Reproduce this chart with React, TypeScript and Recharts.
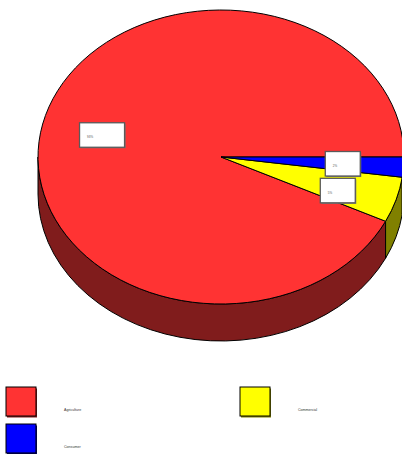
import { PieChart, Pie, Legend } from "recharts";

const CATEGORIES = ["Agriculture", "Commercial", "Consumer"];
const VALUES = [92.8, 5.0, 2.2];
const LABELS = ["93%", "5%", "2%"];
const COLORS = ["#FF3333", "#FFFF00", "#0000FF"];
const SIDE_COLORS = ["#801C1C", "#808000", "#000080"];

const data = CATEGORIES.map((name, i) => ({ name, value: VALUES[i] }));

const RY_RATIO = 147 / 183;
const DEPTH = 37;
const RAD = Math.PI / 180;
const BOX_H = 24.5;
const BOX_GAP = 2.3;

const boxWidth = (i: number) => (LABELS[i].length > 2 ? 45 : 35);

// push label boxes apart so they don't overlap (done in index order, last ones stay put)
function resolveBoxes(centers: { x: number; y: number }[]) {
  const out = centers.map((c) => ({ ...c }));
  for (let i = out.length - 1; i >= 0; i--) {
    for (let j = i + 1; j < out.length; j++) {
      const a = out[i];
      const b = out[j];
      const overlapX = Math.abs(a.x - b.x) < (boxWidth(i) + boxWidth(j)) / 2;
      const overlapY = Math.abs(a.y - b.y) < BOX_H + BOX_GAP;
      if (overlapX && overlapY) {
        a.y = a.y >= b.y ? b.y + BOX_H + BOX_GAP : b.y - BOX_H - BOX_GAP;
      }
    }
  }
  return out;
}

const natural: { x: number; y: number }[] = [];
let boxes: { x: number; y: number }[] = [];

function renderSlice(props: any) {
  const { cx, cy, outerRadius, startAngle, endAngle, midAngle, index } = props;
  const rx = outerRadius;
  const ry = outerRadius * RY_RATIO;
  const pt = (a: number, dy = 0) =>
    `${cx + rx * Math.cos(a * RAD)},${cy - ry * Math.sin(a * RAD) + dy}`;

  const large = endAngle - startAngle > 180 ? 1 : 0;
  const top = `M${cx},${cy} L${pt(startAngle)} A${rx},${ry} 0 ${large} 0 ${pt(endAngle)} Z`;

  // visible side wall: front half only
  const s = Math.max(startAngle, 180);
  const e = Math.min(endAngle, 360);
  let side = null;
  if (s < e) {
    const l = e - s > 180 ? 1 : 0;
    const d = `M${pt(s)} A${rx},${ry} 0 ${l} 0 ${pt(e)} L${pt(e, DEPTH)} A${rx},${ry} 0 ${l} 1 ${pt(s, DEPTH)} Z`;
    side = <path d={d} fill={SIDE_COLORS[index]} stroke="#000" strokeWidth={1} />;
  }

  return (
    <g key={`slice-${index}`}>
      {side}
      <path d={top} fill={COLORS[index]} stroke="#000" strokeWidth={1} />
    </g>
  );
}

function renderBox(props: any) {
  const { cx, cy, outerRadius, midAngle, index } = props;
  const rx = outerRadius;
  const ry = outerRadius * RY_RATIO;
  natural[index] = {
    x: cx + rx * 0.667 * Math.cos(midAngle * RAD),
    y: cy - ry * 0.667 * Math.sin(midAngle * RAD),
  };
  if (index === 0) boxes = [];
  return <BoxLabel key={`box-${index}`} index={index} />;
}

function BoxLabel({ index }: { index: number }) {
  if (boxes.length === 0) boxes = resolveBoxes(natural);
  const { x, y } = boxes[index] ?? natural[index];
  const w = boxWidth(index);
  const h = BOX_H;
  return (
    <g>
      <rect x={x - w / 2 + 1} y={y - h / 2 + 1} width={w} height={h} fill="#777" />
      <rect x={x - w / 2} y={y - h / 2} width={w} height={h} fill="#fff" stroke="#5a5a5a" strokeWidth={1.3} />
      <text x={x - w / 2 + 7.5} y={y + 3} fontSize={3} fill="#555" fontFamily="Liberation Sans">
        {LABELS[index]}
      </text>
    </g>
  );
}

function renderLegend() {
  return (
    <svg width={402} height={74} style={{ display: "block" }}>
      {CATEGORIES.map((name, i) => {
        const x = 6 + (i % 2) * 234;
        const y = 7 + Math.floor(i / 2) * 37;
        return (
          <g key={name}>
            <rect x={x + 1} y={y + 1.5} width={30} height={29} fill={SIDE_COLORS[i]} />
            <rect x={x} y={y} width={30} height={29} fill={COLORS[i]} stroke="#000" strokeWidth={1} />
            <text x={x + 58} y={y + 24} fontSize={3.6} fill="#333" fontFamily="Liberation Sans">
              {name}
            </text>
          </g>
        );
      })}
    </svg>
  );
}

export default function App() {
  return (
    <div style={{ position: "absolute", left: 0, top: 0, width: 402, height: 454, background: "#fff" }}>
      <PieChart width={402} height={454} margin={{ top: 0, right: 0, bottom: 0, left: 0 }}>
        <Pie
          data={data}
          dataKey="value"
          nameKey="name"
          cx={221}
          cy={157}
          outerRadius={183}
          startAngle={0}
          endAngle={360}
          fill="transparent"
          stroke="none"
          label={renderSlice}
          labelLine={false}
          isAnimationActive={false}
        />
        <Pie
          data={data}
          dataKey="value"
          nameKey="name"
          cx={221}
          cy={157}
          outerRadius={183}
          startAngle={0}
          endAngle={360}
          fill="transparent"
          stroke="none"
          label={renderBox}
          labelLine={false}
          legendType="none"
          isAnimationActive={false}
        />
        <Legend
          content={renderLegend}
          wrapperStyle={{ position: "absolute", left: 0, top: 380, width: 402, height: 74 }}
        />
      </PieChart>
    </div>
  );
}
